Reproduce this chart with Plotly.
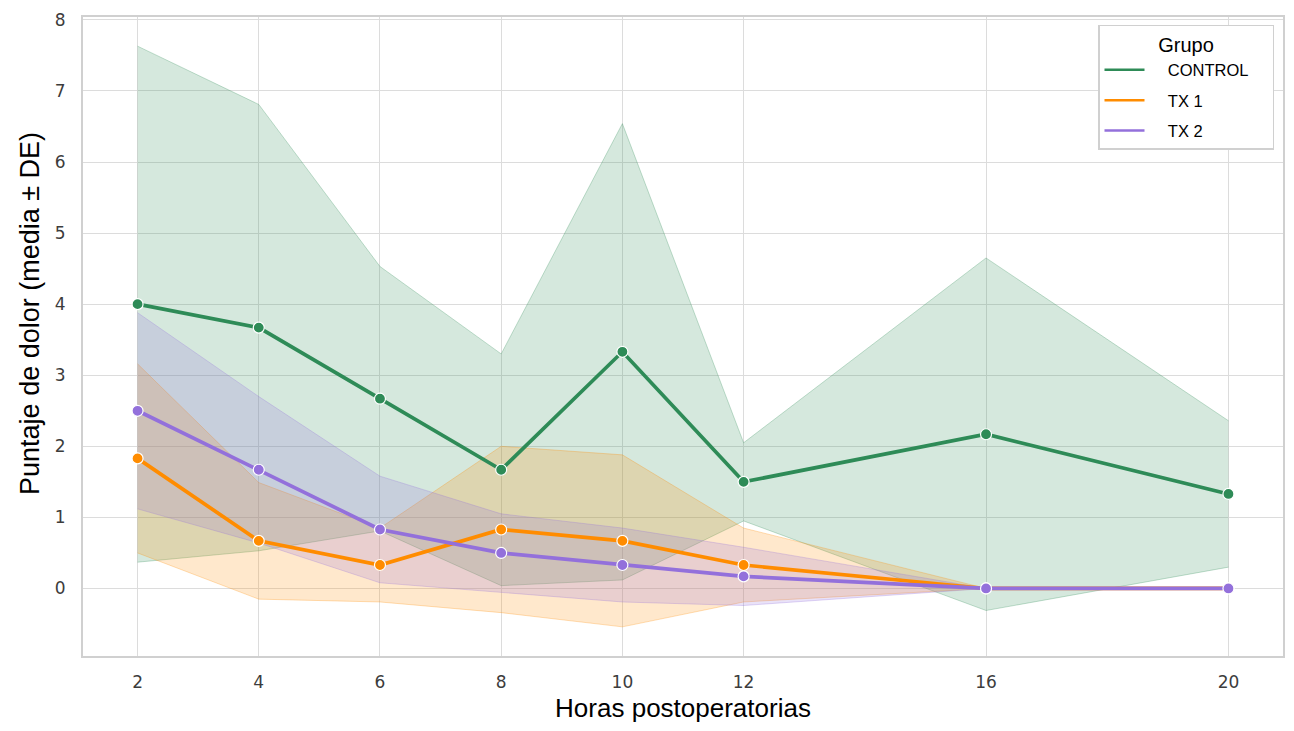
import plotly.graph_objects as go

hours = [2, 4, 6, 8, 10, 12, 16, 20]
groups = ["CONTROL", "TX 1", "TX 2"]
control_mean = [4.0, 3.67, 2.67, 1.67, 3.33, 1.5, 2.17, 1.33]
control_sd = [3.63, 3.14, 1.86, 1.63, 3.21, 0.55, 2.48, 1.03]
tx1_mean = [1.83, 0.67, 0.33, 0.83, 0.67, 0.33, 0.0, 0.0]
tx1_sd = [1.33, 0.82, 0.52, 1.17, 1.21, 0.52, 0.0, 0.0]
tx2_mean = [2.5, 1.67, 0.83, 0.5, 0.33, 0.17, 0.0, 0.0]
tx2_sd = [1.38, 1.03, 0.75, 0.55, 0.52, 0.41, 0.0, 0.0]
y_ticks = [0, 1, 2, 3, 4, 5, 6, 7, 8]

means = [control_mean, tx1_mean, tx2_mean]
sds = [control_sd, tx1_sd, tx2_sd]
colors = [(46, 139, 87), (255, 140, 0), (147, 112, 219)]

def rgba(c, a):
    return f"rgba({c[0]},{c[1]},{c[2]},{a})"

fig = go.Figure()

# bands
for name, m, s, c in zip(groups, means, sds, colors):
    lower = [a - b for a, b in zip(m, s)]
    upper = [a + b for a, b in zip(m, s)]
    fig.add_trace(go.Scatter(x=hours, y=lower, mode="lines",
                             line=dict(color=rgba(c, 0.28), width=1),
                             showlegend=False, hoverinfo="skip"))
    fig.add_trace(go.Scatter(x=hours, y=upper, mode="lines", fill="tonexty",
                             fillcolor=rgba(c, 0.2),
                             line=dict(color=rgba(c, 0.28), width=1),
                             showlegend=False, hoverinfo="skip"))

# mean lines
for name, m, c in zip(groups, means, colors):
    fig.add_trace(go.Scatter(x=hours, y=m, mode="lines+markers", name=name,
                             line=dict(color=rgba(c, 1), width=3.7),
                             marker=dict(size=11, color=rgba(c, 1),
                                         line=dict(color="white", width=1.2)),
                             showlegend=False))

# legend entries (line only)
nb = "\u00a0"
for name, c in zip(groups, colors):
    fig.add_trace(go.Scatter(x=[None], y=[None], mode="lines",
                             name=nb * 4 + name + nb * 4, legendgroup=name,
                             line=dict(color=rgba(c, 1), width=2.5)))

axis_common = dict(
    showgrid=True, gridcolor="#dcdcdc", gridwidth=1.3,
    showline=True, linecolor="#d0d0d0", linewidth=2, mirror=True,
    zeroline=False, ticks="", automargin=False,
    tickfont=dict(family="DejaVu Sans", size=17, color="#3c3c3c"),
)

fig.update_layout(
    width=1278, height=715,
    margin=dict(l=75, r=3, t=9, b=67),
    paper_bgcolor="white", plot_bgcolor="white",
    xaxis=dict(range=[1.1, 20.9], tickvals=hours, ticktext=[str(h) for h in hours],
               ticklabelstandoff=10,
               title=dict(text="Horas postoperatorias", standoff=12,
                          font=dict(family="Liberation Sans", size=26, color="black")),
               **axis_common),
    yaxis=dict(range=[-0.95, 8.04], tickvals=y_ticks, ticklabelstandoff=12,
               **axis_common),
    annotations=[dict(text="Puntaje de dolor (media ± DE)", textangle=-90,
                      xref="paper", yref="paper", x=-0.0442, y=0.5368,
                      xanchor="center", yanchor="middle", showarrow=False,
                      font=dict(family="Liberation Sans", size=27, color="black"))],
    legend=dict(
        x=0.9925, y=0.9875, xanchor="right", yanchor="top",
        bgcolor="white", bordercolor="#d0d0d0", borderwidth=1.5,
        font=dict(family="Liberation Sans", size=16.5, color="black"),
        title=dict(text="Grupo", side="top center",
                   font=dict(family="Liberation Sans", size=20, color="black")),
        traceorder="grouped", tracegroupgap=6, itemwidth=40,
    ),
)

fig.write_html("out.html")
